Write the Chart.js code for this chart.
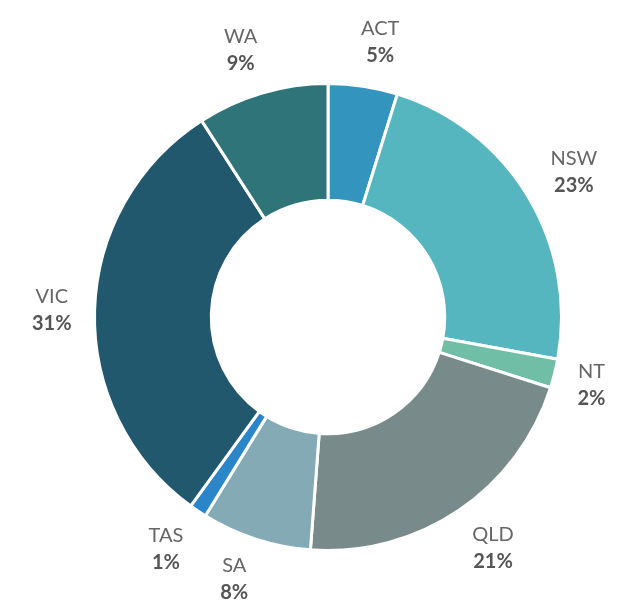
<!DOCTYPE html>
<html><head><meta charset="utf-8">
<script src="https://cdn.jsdelivr.net/npm/chart.js@4/dist/chart.umd.min.js"></script>
<style>html,body{margin:0;padding:0;background:#fff}#wrap{width:633px;height:601px}</style>
</head><body><div id="wrap"><canvas id="c" width="633" height="601"></canvas></div>
<script>
const categories = ["ACT","NSW","NT","QLD","SA","TAS","VIC","WA"];
const values = [4.8, 23.1, 2.0, 21.3, 7.6, 1.2, 30.9, 9.1];
const pctLabels = ["5%","23%","2%","21%","8%","1%","31%","9%"];
const colors = ["#3394bd","#56b6c0","#71bea6","#788a8a","#84aab5","#2a86c8","#21586d","#2e7478"];

const labelPlugin = {
  id: 'outLabels',
  afterDatasetsDraw(chart) {
    const ctx = chart.ctx;
    const meta = chart.getDatasetMeta(0);
    const nameFont = '20px Lato, "Open Sans", sans-serif';
    const pctFont = 'bold 20px Lato, "Open Sans", sans-serif';
    meta.data.forEach((arc, i) => {
      const p = arc.getProps(['x','y','startAngle','endAngle','outerRadius'], true);
      const mid = (p.startAngle + p.endAngle) / 2;
      const ux = Math.cos(mid), uy = Math.sin(mid);
      ctx.save();
      ctx.font = nameFont;
      const w1 = ctx.measureText(categories[i]).width;
      ctx.font = pctFont;
      const w2 = ctx.measureText(pctLabels[i]).width;
      const w = Math.max(w1, w2);
      const h = 44;
      const r = p.outerRadius + 23;
      const m = Math.max(Math.abs(ux), Math.abs(uy));
      let dx = w / 2 * ux / m + 11 * uy * uy * Math.sign(ux);
      let dy = h / 2 * uy / m;
      if (uy > 0) dy -= 5 * uy;
      const cx = p.x + ux * r + dx;
      const cy = p.y + uy * r + dy;
      ctx.textAlign = 'center';
      ctx.textBaseline = 'alphabetic';
      ctx.fillStyle = '#666666';
      ctx.font = nameFont;
      ctx.fillText(categories[i], cx, cy - 6);
      ctx.fillStyle = '#555555';
      ctx.font = pctFont;
      ctx.fillText(pctLabels[i], cx, cy + 21);
      ctx.restore();
    });
  }
};

new Chart(document.getElementById('c'), {
  type: 'doughnut',
  data: {
    labels: categories,
    datasets: [{
      data: values,
      backgroundColor: colors,
      borderColor: '#ffffff',
      borderWidth: 3
    }]
  },
  options: {
    responsive: false,
    animation: false,
    cutout: '50%',
    layout: { padding: { top: 82, bottom: 49, left: 93, right: 70 } },
    plugins: { legend: { display: false }, tooltip: { enabled: false } }
  },
  plugins: [labelPlugin]
});
</script>
</body></html>
